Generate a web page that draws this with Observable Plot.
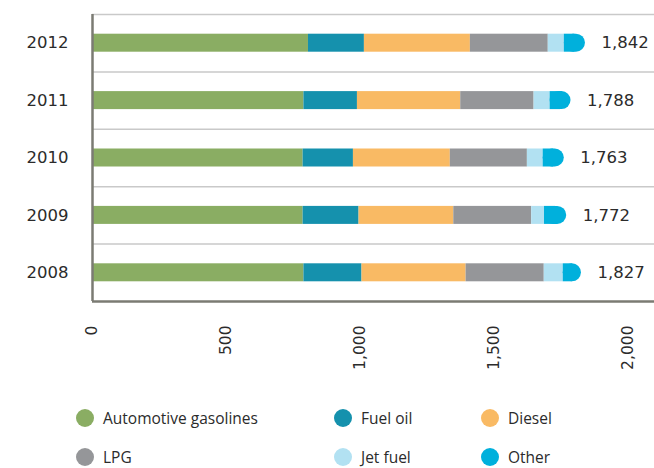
<!DOCTYPE html>
<html><head><meta charset="utf-8">
<script src="https://cdn.jsdelivr.net/npm/d3@7"></script>
<script src="https://cdn.jsdelivr.net/npm/@observablehq/plot@0.6"></script>
<style>
body{margin:0;background:#fff;width:654px;height:468px;overflow:hidden;position:relative;font-family:"DejaVu Sans",sans-serif}
#chart svg{display:block}
#chart svg g[aria-label="y-axis tick label"] text{font-size:16.5px}
#chart svg g[aria-label="x-axis tick label"] text{font-size:15.5px}
#legend{position:absolute;left:0;top:0;width:654px;height:468px;pointer-events:none}
.item{position:absolute;display:flex;align-items:center;font-family:"Open Sans",sans-serif;font-size:15.5px;color:#2b2b2b;height:20px;white-space:nowrap}
.sw{width:18px;height:18px;border-radius:50%;margin-right:9px;flex:none}
</style></head><body><div id="chart"></div><div id="legend"></div>
<script>
// ---- data ----
const years = [2008, 2009, 2010, 2011, 2012];
const gasolines = [790, 787, 787, 790, 807];
const fuelOil   = [217, 209, 188, 200, 209];
const diesel    = [389, 354, 362, 386, 396];
const lpg       = [292, 291, 288, 274, 291];
const jetFuel   = [71, 48, 59, 60, 60];
const other     = [68, 83, 79, 78, 79];
const totals    = [1827, 1772, 1763, 1788, 1842];
const fuels = ["Automotive gasolines", "Fuel oil", "Diesel", "LPG", "Jet fuel", "Other"];
const xTicks = [0, 500, 1000, 1500, 2000];

// ---- styles ----
const colors = ["#8aad63", "#1591ad", "#f9ba64", "#959699", "#b2e1f2", "#00b0dc"];
const series = [gasolines, fuelOil, diesel, lpg, jetFuel, other];

const rows = [];
years.forEach((yr, i) => {
  let c = 0;
  fuels.forEach((f, j) => {
    const v = series[j][i];
    rows.push({year: yr, fuel: f, x1: c, x2: c + v, yBot: yr - 0.5, yTop: yr + 0.5});
    c += v;
  });
});
const mainRows = rows.filter(d => d.fuel !== "Other");
const otherRows = rows.filter(d => d.fuel === "Other");
const totalRows = years.map((yr, i) => ({year: yr, total: totals[i]}));
const bounds = d3.range(years.length + 1).map(k => years[0] - 0.5 + k);

const H = 390, MT = 14, MB = 89;
const band = (H - MT - MB) / years.length;
const inset = (band - 18) / 2;
const fmt = d3.format(",");

const chart = Plot.plot({
  width: 654, height: H,
  marginLeft: 92, marginRight: 0, marginTop: MT, marginBottom: MB,
  style: {fontFamily: "DejaVu Sans", fontSize: "15px", color: "#2b2b2b", background: "#fff"},
  x: {domain: [0, 2100], ticks: xTicks, tickFormat: fmt, tickRotate: -90, tickSize: 0, tickPadding: 24, label: null},
  y: {domain: [bounds[0], bounds[bounds.length - 1]], ticks: years, tickFormat: "d", tickSize: 0, tickPadding: 24, label: null},
  color: {domain: fuels, range: colors},
  marks: [
    Plot.ruleY(bounds.slice(1), {stroke: "#c9c9c9", strokeWidth: 1.5}),
    Plot.rect(mainRows, {x1: "x1", x2: "x2", y1: "yBot", y2: "yTop", fill: "fuel", insetTop: inset, insetBottom: inset}),
    Plot.rect(otherRows, {x1: "x1", x2: "x2", y1: "yBot", y2: "yTop", fill: "fuel", rx: 9, insetTop: inset, insetBottom: inset}),
    Plot.rect(otherRows, {x1: "x1", x2: d => (d.x1 + d.x2) / 2, y1: "yBot", y2: "yTop", fill: "fuel", insetTop: inset, insetBottom: inset}),
    Plot.ruleX([0], {stroke: "#7b7b73", strokeWidth: 2.5}),
    Plot.ruleY([bounds[0]], {stroke: "#7b7b73", strokeWidth: 2.5}),
    Plot.text(totalRows, {x: "total", y: "year", text: d => fmt(d.total), dx: 16, textAnchor: "start", fill: "#2b2b2b", fontSize: 16.5})
  ]
});
document.getElementById("chart").appendChild(chart);

// ---- legend ----
const legendCols = [76, 334, 481];
const legendRows = [418, 457];
const leg = document.getElementById("legend");
fuels.forEach((f, i) => {
  const r = Math.floor(i / 3), c = i % 3;
  const it = document.createElement("div");
  it.className = "item";
  it.style.left = legendCols[c] + "px";
  it.style.top = (legendRows[r] - 10) + "px";
  const sw = document.createElement("span");
  sw.className = "sw";
  sw.style.background = colors[i];
  const tx = document.createElement("span");
  tx.textContent = f;
  it.appendChild(sw); it.appendChild(tx);
  leg.appendChild(it);
});
</script>
</body></html>
